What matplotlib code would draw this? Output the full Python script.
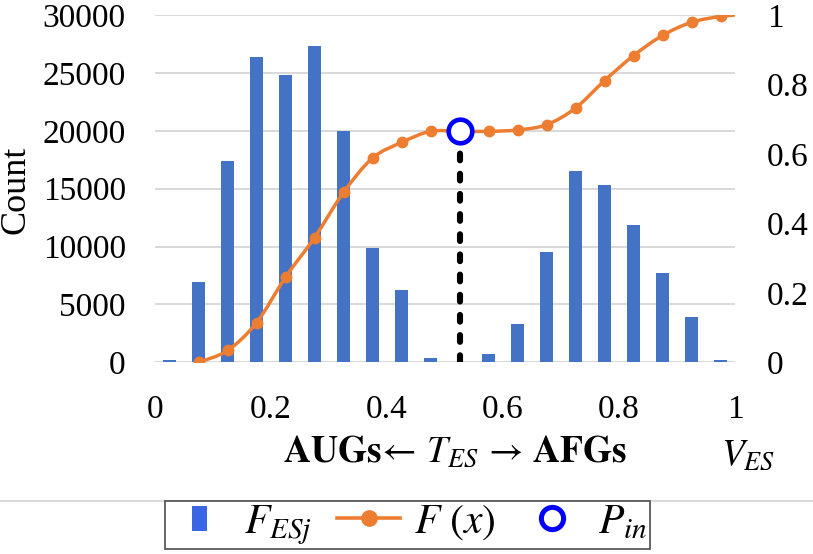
import numpy as np
import matplotlib
matplotlib.use('Agg')
from matplotlib import pyplot as plt
from matplotlib.lines import Line2D
from matplotlib.path import Path
from matplotlib.patches import PathPatch

# Data
binCenters = [0.025, 0.075, 0.125, 0.175, 0.225, 0.275, 0.325, 0.375, 0.425, 0.475,
              0.525, 0.575, 0.625, 0.675, 0.725, 0.775, 0.825, 0.875, 0.925, 0.975]
binCounts = [230, 6900, 17350, 26350, 24800, 27300, 20000, 9850, 6280, 400,
             0, 690, 3330, 9560, 16520, 15320, 11870, 7690, 3950, 240]

cdfX = [0.075, 0.125, 0.175, 0.225, 0.275, 0.325, 0.375, 0.425, 0.475, 0.525,
        0.575, 0.625, 0.675, 0.725, 0.775, 0.825, 0.875, 0.925, 0.975]
cdfY = [0.0, 0.034, 0.114, 0.245, 0.359, 0.489, 0.588, 0.633, 0.665, 0.665,
        0.665, 0.669, 0.684, 0.732, 0.811, 0.883, 0.941, 0.979, 0.996]
cdfEndX = 1.0
cdfEndY = 1.0

pInX = 0.525
pInY = 0.665

xTicks = [0, 0.2, 0.4, 0.6, 0.8, 1]
xTickLabels = ['0', '0.2', '0.4', '0.6', '0.8', '1']
countTicks = [0, 5000, 10000, 15000, 20000, 25000, 30000]
countTickLabels = ['0', '5000', '10000', '15000', '20000', '25000', '30000']
probTicks = [0, 0.2, 0.4, 0.6, 0.8, 1]
probTickLabels = ['0', '0.2', '0.4', '0.6', '0.8', '1']

barColor = '#4472C4'
lineColor = '#ED7D31'
gridColor = '#d9d9d9'

plt.rcParams['font.family'] = ['Liberation Serif', 'DejaVu Serif']
plt.rcParams['mathtext.fontset'] = 'stix'


# Smoothed line like Excel: bezier segments through the given points
def smoothPath(xs, ys):
    pts = np.column_stack([xs, ys])
    verts = [pts[0]]
    codes = [Path.MOVETO]
    n = len(pts)
    for i in range(n - 1):
        p0 = pts[i - 1] if i > 0 else pts[i]
        p1 = pts[i]
        p2 = pts[i + 1]
        p3 = pts[i + 2] if i + 2 < n else pts[i + 1]
        c1 = p1 + (p2 - p0) / 6.0
        c2 = p2 - (p3 - p1) / 6.0
        verts += [c1, c2, p2]
        codes += [Path.CURVE4] * 3
    return Path(verts, codes)


W, H = 813, 554
fig = plt.figure(figsize=(W / 100, H / 100), dpi=100)

# axes box in pixels: x 155..735, y 15..362
ax = fig.add_axes([155 / W, 1 - 362.3 / H, 580 / W, 347.3 / H])
ax.set_axisbelow(True)
ax.bar(binCenters, binCounts, width=0.021, color=barColor, zorder=2)
ax.set_xlim(0, 1)
ax.set_ylim(0, 30000)
ax.set_xticks(xTicks)
ax.set_xticklabels(xTickLabels)
ax.set_yticks(countTicks)
ax.set_yticklabels(countTickLabels)
ax.yaxis.grid(True, color=gridColor, lw=1.4, zorder=0)
ax.tick_params(axis='y', length=0, labelsize=24, pad=21)
ax.tick_params(axis='x', length=0, labelsize=24, pad=23)
for sp in ax.spines.values():
    sp.set_visible(False)

ax2 = ax.twinx()
ax2.set_ylim(0, 1)
ax2.set_yticks(probTicks)
ax2.set_yticklabels(probTickLabels)
ax2.tick_params(axis='y', length=0, labelsize=24, pad=23)
for sp in ax2.spines.values():
    sp.set_visible(False)

# cumulative curve
curve = PathPatch(smoothPath(cdfX + [cdfEndX], cdfY + [cdfEndY]), facecolor='none',
                  edgecolor=lineColor, lw=2.5, zorder=3, capstyle='butt')
ax2.add_patch(curve)
ax2.plot(cdfX, cdfY, ls='none', marker='o', ms=7.5, color=lineColor, zorder=4)

# threshold marker and dotted drop line
ax2.plot([pInX, pInX], [0, pInY - 0.045], color='black', lw=4.4,
         dashes=(1.1, 2.2), dash_capstyle='round', zorder=5)
ax2.plot([pInX], [pInY], ls='none', marker='o', ms=17, mew=3.3,
         mec='#0000FF', mfc='white', zorder=6)

# axis titles
fig.text(16 / W, 1 - 190 / H, 'Count', rotation=90, fontsize=26,
         ha='center', va='center')
fig.text(455 / W, 1 - 452 / H,
         r'$\mathbf{AUGs}\!\leftarrow\,T_{ES}\,\rightarrow\,\mathbf{AFGs}$',
         fontsize=27, ha='center', va='center')
fig.text(748 / W, 1 - 456 / H, r'$V_{ES}$', fontsize=27, ha='center', va='center')

# separator line above legend
fig.add_artist(Line2D([0, 1], [1 - 501 / H, 1 - 501 / H], transform=fig.transFigure,
                      color=gridColor, lw=1.4))

rectMarker = [(-0.3, -0.5), (0.3, -0.5), (0.3, 0.5), (-0.3, 0.5), (-0.3, -0.5)]
handles = [
    Line2D([], [], ls='none', marker=rectMarker, ms=18, color='#3a66e6', mew=0),
    Line2D([], [], color=lineColor, lw=2.6, marker='o', ms=11),
    Line2D([], [], ls='none', marker='o', ms=16, mew=3.6, mec='#0000FF', mfc='white'),
]
labels = [r'$F_{ESj}$', r'$F\ (x)$', r'$P_{in}$']
leg = fig.legend(handles, labels, loc='center', bbox_to_anchor=(407.5 / W, 1 - 525 / H),
                 ncol=3, fontsize=30, frameon=True, fancybox=False, framealpha=1,
                 edgecolor='#595959', borderpad=0.05, handlelength=1.5,
                 handletextpad=0.35, columnspacing=0.6, borderaxespad=0)
leg.get_frame().set_linewidth(1.3)

fig.savefig('out.png', dpi=100)
